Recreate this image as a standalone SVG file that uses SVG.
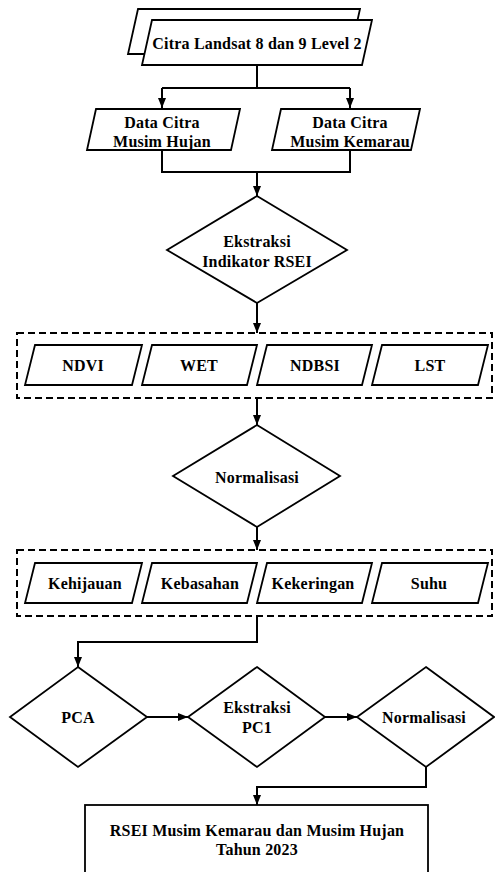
<svg xmlns="http://www.w3.org/2000/svg" width="495" height="872" viewBox="0 0 495 872">
<style>
.s{fill:#fff;stroke:#000;stroke-width:1.8;stroke-linejoin:miter}
.d{fill:none;stroke:#000;stroke-width:2;stroke-dasharray:7 4}
.c{fill:none;stroke:#000;stroke-width:2}
.t text{font-family:'Liberation Serif','Times New Roman',serif;font-weight:bold;font-size:16px;fill:#000;text-anchor:middle;dominant-baseline:central;letter-spacing:0.2px}
</style>
<defs>
<marker id="ah" markerUnits="userSpaceOnUse" markerWidth="10" markerHeight="10" viewBox="0 0 10 10" refX="10" refY="5" orient="auto">
<path d="M0,1 L10,5 L0,9 Z" fill="#000"/>
</marker>
</defs>
<rect width="495" height="872" fill="#fff"/>
<g id="connectors">
<path class="c" d="M257,65 V88 M162,88 H350"/>
<path class="c" d="M162,88 V108" marker-end="url(#ah)"/>
<path class="c" d="M350,88 V108" marker-end="url(#ah)"/>
<path class="c" d="M162,150 V172 H350 V150"/>
<path class="c" d="M257,172 V196" marker-end="url(#ah)"/>
<path class="c" d="M257,303 V333" marker-end="url(#ah)"/>
<path class="c" d="M257,398 V425" marker-end="url(#ah)"/>
<path class="c" d="M257,527 V550" marker-end="url(#ah)"/>
<path class="c" d="M257,616 V642 H78 V667" marker-end="url(#ah)"/>
<path class="c" d="M147,717 H188" marker-end="url(#ah)"/>
<path class="c" d="M325,717 H357" marker-end="url(#ah)"/>
<path class="c" d="M426,767 V787 H257 V805" marker-end="url(#ah)"/>
</g>
<g class="t">
<g id="citra">
<polygon class="s" points="138,9 360,9 350,54 128,54"/>
<polygon class="s" points="152,20 372,20 362,65 142,65"/>
<text x="257" y="43">Citra Landsat 8 dan 9 Level 2</text>
</g>
<g id="hujan">
<polygon class="s" points="96,109 240,109 231,150 87,150"/>
<text x="162" y="122">Data Citra</text>
<text x="162" y="141">Musim Hujan</text>
</g>
<g id="kemarau">
<polygon class="s" points="281,109 420,109 411,150 272,150"/>
<text x="350" y="122">Data Citra</text>
<text x="350" y="141">Musim Kemarau</text>
</g>
<g id="ekstraksi-rsei">
<polygon class="s" points="257,196 347,250 257,303 167,250"/>
<text x="257" y="241">Ekstraksi</text>
<text x="257" y="261">Indikator RSEI</text>
</g>
<g id="indikator">
<rect class="d" x="17" y="333" width="475" height="65"/>
<g id="ndvi"><polygon class="s" points="35,345 142,345 132,385 25,385"/><text x="83" y="365">NDVI</text></g>
<g id="wet"><polygon class="s" points="152,345 257,345 247,385 142,385"/><text x="199" y="365">WET</text></g>
<g id="ndbsi"><polygon class="s" points="267,345 372,345 362,385 257,385"/><text x="315" y="365">NDBSI</text></g>
<g id="lst"><polygon class="s" points="382,345 488,345 478,385 372,385"/><text x="430" y="365">LST</text></g>
</g>
<g id="normalisasi1">
<polygon class="s" points="257,425 340,476 257,527 173,476"/>
<text x="257" y="477">Normalisasi</text>
</g>
<g id="normalized">
<rect class="d" x="17" y="550" width="475" height="66"/>
<g id="kehijauan"><polygon class="s" points="35,563 142,563 132,603 25,603"/><text x="85" y="583">Kehijauan</text></g>
<g id="kebasahan"><polygon class="s" points="152,563 257,563 247,603 142,603"/><text x="200" y="583">Kebasahan</text></g>
<g id="kekeringan"><polygon class="s" points="267,563 372,563 362,603 257,603"/><text x="313" y="583">Kekeringan</text></g>
<g id="suhu"><polygon class="s" points="382,563 488,563 478,603 372,603"/><text x="429" y="583">Suhu</text></g>
</g>
<g id="pca">
<polygon class="s" points="78,667 147,717 78,767 10,717"/>
<text x="78" y="717">PCA</text>
</g>
<g id="pc1">
<polygon class="s" points="257,667 325,717 257,767 188,717"/>
<text x="257" y="707">Ekstraksi</text>
<text x="257" y="727">PC1</text>
</g>
<g id="normalisasi2">
<polygon class="s" points="426,667 494,717 426,767 357,717"/>
<text x="424" y="717">Normalisasi</text>
</g>
<g id="rsei">
<rect class="s" x="85" y="805" width="343" height="72" stroke-width="2.5"/>
<text x="257" y="830">RSEI Musim Kemarau dan Musim Hujan</text>
<text x="257" y="849">Tahun 2023</text>
</g>
</g>
</svg>
